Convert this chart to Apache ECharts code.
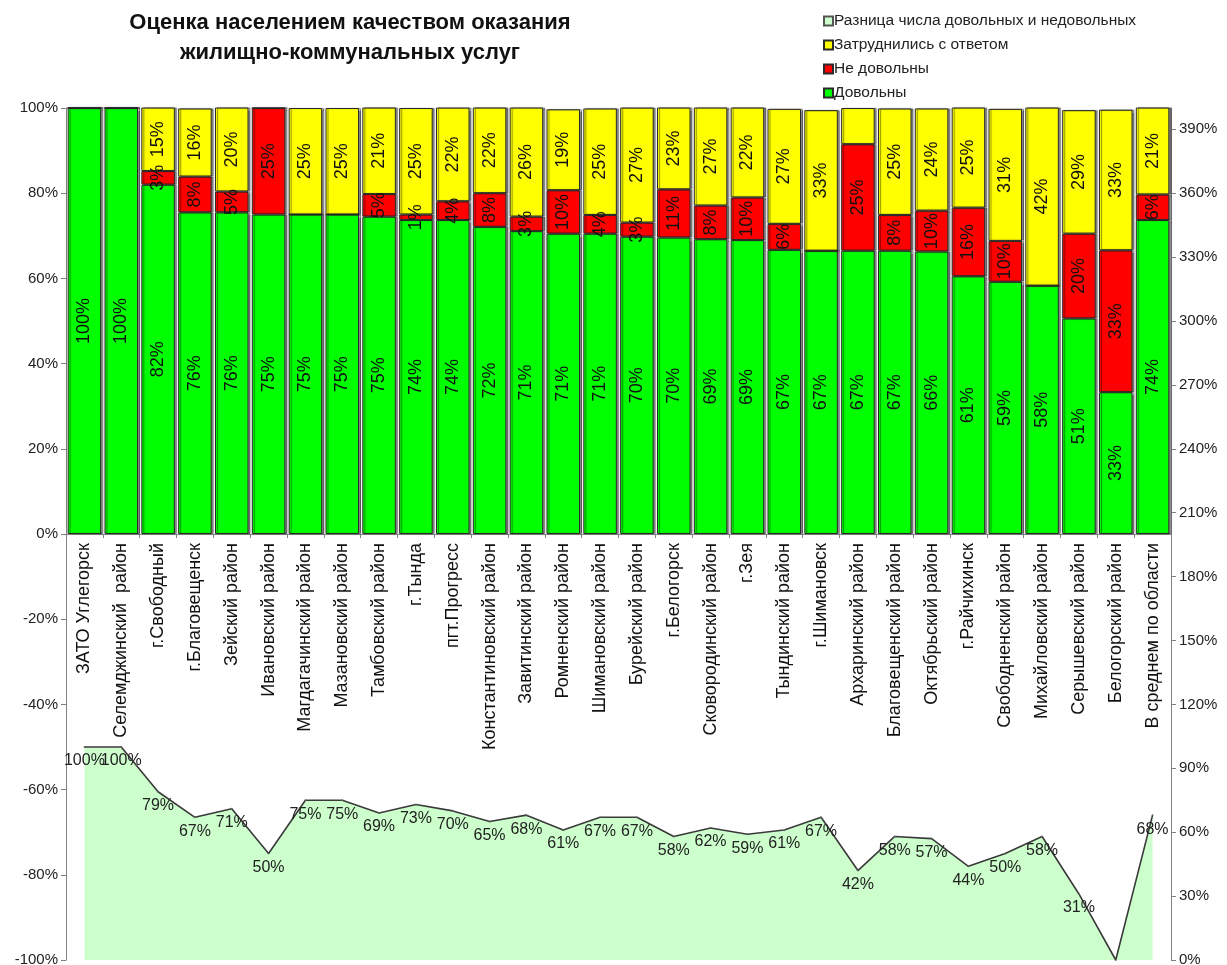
<!DOCTYPE html>
<html>
<head>
<meta charset="utf-8">
<script src="https://cdn.jsdelivr.net/npm/echarts@6/dist/echarts.min.js"></script>
<style>
html,body{margin:0;padding:0;background:#fff;}
#chart{width:1227px;height:965px;}
</style>
</head>
<body>
<div id="chart"></div>
<script>
const categories = [
  'ЗАТО Углегорск', 'Селемджинский  район', 'г.Свободный', 'г.Благовещенск', 'Зейский район',
  'Ивановский район', 'Магдагачинский район', 'Мазановский район', 'Тамбовский район', 'г.Тында',
  'пгт.Прогресс', 'Константиновский район', 'Завитинский район', 'Ромненский район', 'Шимановский район',
  'Бурейский район', 'г.Белогорск', 'Сковородинский район', 'г.Зея', 'Тындинский район',
  'г.Шимановск', 'Архаринский район', 'Благовещенский район', 'Октябрьский район', 'г.Райчихинск',
  'Свободненский район', 'Михайловский район', 'Серышевский район', 'Белогорский район', 'В среднем по области'
];
const satisfied = [100, 100, 82, 75.5, 75.5, 75, 75, 75, 74.5, 73.7, 73.7, 72.1, 71.1, 70.5, 70.5,
  69.8, 69.6, 69.2, 69, 66.7, 66.5, 66.5, 66.5, 66.3, 60.5, 59.2, 58.3, 50.6, 33.3, 73.7];
const dissatisfied = [0, 0, 3.2, 8.4, 4.9, 25, 0, 0, 5.3, 1.3, 4.4, 7.9, 3.4, 10.2, 4.4,
  3.3, 11.3, 7.9, 10, 6.1, 0, 25, 8.4, 9.6, 16.1, 9.6, 0, 19.9, 33.3, 6];
const undecided = [0, 0, 15, 16, 20, 0, 25, 25, 21, 25, 22, 22, 26, 19, 25,
  27, 23, 27, 22, 27, 33, 8.5, 25, 24, 25, 31, 42, 29, 33, 21];
const difference = [100, 100, 79, 67, 71, 50, 75, 75, 69, 73, 70, 65, 68, 61, 67,
  67, 58, 62, 59, 61, 67, 42, 58, 57, 44, 50, 58, 31, 0, 68];
const leftTicks = [-100, -80, -60, -40, -20, 0, 20, 40, 60, 80, 100];
const rightTicks = [0, 30, 60, 90, 120, 150, 180, 210, 240, 270, 300, 330, 360, 390];

const FONT = '"Liberation Sans", Arial, sans-serif';
const chart = echarts.init(document.getElementById('chart'));

function pctLabel(minShow) {
  return function (p) {
    const v = p.value;
    if (v <= minShow) return '';
    return Math.round(v) + '%';
  };
}

const barItem = function (color) {
  return {
    color: color,
    borderColor: '#2a2a2a',
    borderWidth: 1,
    shadowColor: 'rgba(0,0,0,0.45)',
    shadowOffsetX: 2,
    shadowOffsetY: 0,
    shadowBlur: 1
  };
};
const barLabel = function (minShow) {
  return {
    show: true,
    position: 'inside',
    rotate: 90,
    fontFamily: FONT,
    fontSize: 18,
    color: '#111',
    formatter: pctLabel(minShow)
  };
};

const option = {
  animation: false,
  backgroundColor: '#fff',
  title: {
    text: 'Оценка населением качеством оказания\nжилищно-коммунальных услуг',
    left: 345,
    top: 3,
    textAlign: 'center',
    textStyle: {
      fontFamily: FONT,
      fontSize: 22,
      fontWeight: 'bold',
      color: '#111',
      lineHeight: 30
    }
  },
  legend: {
    orient: 'vertical',
    left: 818,
    top: 8,
    itemWidth: 9,
    itemHeight: 9,
    itemGap: 8,
    icon: 'rect',
    textStyle: { fontFamily: FONT, fontSize: 15.5, color: '#222', padding: [0, 0, 0, -4] },
    data: ['Разница числа довольных и недовольных', 'Затруднились с ответом', 'Не довольны', 'Довольны']
  },
  grid: [
    { left: 66, right: 56, top: 108, bottom: 5, containLabel: false, outerBoundsMode: 'none' },
    { left: 66, right: 56, top: 108, bottom: 431, containLabel: false, outerBoundsMode: 'none' }
  ],
  xAxis: [
    {
      type: 'category',
      gridIndex: 0,
      data: categories,
      boundaryGap: true,
      axisLine: { onZero: true, onZeroAxisIndex: 0, lineStyle: { color: '#808080', width: 1 } },
      axisTick: { show: true, interval: 0, length: 4, lineStyle: { color: '#808080' } },
      axisLabel: { show: false },
      splitLine: { show: false }
    },
    {
      type: 'category',
      gridIndex: 1,
      data: categories,
      boundaryGap: true,
      axisLine: { show: false },
      axisTick: { show: false },
      axisLabel: {
        interval: 0,
        rotate: 90,
        margin: 9,
        fontFamily: FONT,
        fontSize: 18,
        color: '#111'
      },
      splitLine: { show: false }
    }
  ],
  yAxis: [
    {
      type: 'value',
      gridIndex: 0,
      min: -100,
      max: 100,
      interval: 20,
      axisLine: { show: true, lineStyle: { color: '#808080' } },
      axisTick: { show: true, length: 5, lineStyle: { color: '#808080' } },
      axisLabel: {
        fontFamily: FONT, fontSize: 15, color: '#222', margin: 8,
        formatter: function (v) { return leftTicks.indexOf(v) >= 0 ? v + '%' : ''; }
      },
      splitLine: { show: false }
    },
    {
      type: 'value',
      gridIndex: 0,
      min: 0,
      max: 400,
      interval: 30,
      position: 'right',
      axisLine: { show: true, lineStyle: { color: '#808080' } },
      axisTick: { show: true, length: 5, lineStyle: { color: '#808080' } },
      axisLabel: {
        fontFamily: FONT, fontSize: 15, color: '#222', margin: 8, showMaxLabel: false,
        formatter: function (v) { return rightTicks.indexOf(v) >= 0 ? v + '%' : ''; }
      },
      splitLine: { show: false }
    },
    {
      type: 'value',
      gridIndex: 1,
      show: false,
      min: 0,
      max: 100
    }
  ],
  series: [
    {
      name: 'Разница числа довольных и недовольных',
      type: 'line',
      xAxisIndex: 0,
      yAxisIndex: 1,
      data: difference,
      symbol: 'circle',
      symbolSize: 1,
      showSymbol: true,
      z: 1,
      lineStyle: { color: '#3a3a3a', width: 1.6 },
      itemStyle: { color: '#CCFFCC', borderColor: '#555', borderWidth: 1 },
      areaStyle: { color: '#CCFFCC', opacity: 1 },
      label: {
        show: true,
        position: 'bottom',
        distance: 5,
        fontFamily: FONT,
        fontSize: 16,
        color: '#222',
        formatter: '{c}%'
      },
      labelLayout: { hideOverlap: false }
    },
    {
      name: 'Довольны',
      type: 'bar',
      xAxisIndex: 0,
      yAxisIndex: 0,
      stack: 'total',
      data: satisfied,
      barCategoryGap: '9%',
      itemStyle: barItem('#00FF00'),
      label: barLabel(0),
      z: 3
    },
    {
      name: 'Не довольны',
      type: 'bar',
      xAxisIndex: 0,
      yAxisIndex: 0,
      stack: 'total',
      data: dissatisfied,
      itemStyle: barItem('#FF0000'),
      label: barLabel(0),
      z: 3
    },
    {
      name: 'Затруднились с ответом',
      type: 'bar',
      xAxisIndex: 0,
      yAxisIndex: 0,
      stack: 'total',
      data: undecided,
      itemStyle: barItem('#FFFF00'),
      label: barLabel(10),
      z: 3
    }
  ]
};
chart.setOption(option);
</script>
</body>
</html>
